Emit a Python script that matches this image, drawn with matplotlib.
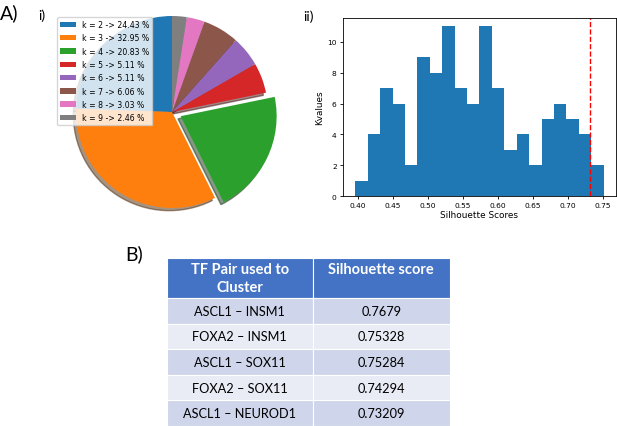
import numpy as np
import matplotlib
matplotlib.use("Agg")
import matplotlib.pyplot as plt
from matplotlib.patches import Rectangle

# pie data
k_values = [2, 3, 4, 5, 6, 7, 8, 9]
k_percent = [24.43, 32.95, 20.83, 5.11, 5.11, 6.06, 3.03, 2.46]
k_explode = [0, 0, 0.1, 0, 0, 0, 0, 0]

# histogram data (20 bins)
hist_lo = 0.397
hist_hi = 0.7515
hist_counts = [1, 4, 7, 6, 2, 9, 8, 11, 7, 6, 11, 7, 3, 4, 2, 5, 6, 5, 4, 2]
cutoff = 0.732

# table data
table_header = ["TF Pair used to\nCluster", "Silhouette score"]
tf_pairs = ["ASCL1 \u2013 INSM1", "FOXA2 \u2013 INSM1", "ASCL1 \u2013 SOX11",
            "FOXA2 \u2013 SOX11", "ASCL1 \u2013 NEUROD1"]
sil_scores = ["0.7679", "0.75328", "0.75284", "0.74294", "0.73209"]

W, H = 617, 427
fig = plt.figure(figsize=(W / 100, H / 100), dpi=100)


def px(x0, y0, x1, y1):
    # pixel box (top based) -> figure fraction rect
    return [x0 / W, 1 - y1 / H, (x1 - x0) / W, (y1 - y0) / H]


# ---- pie ----
ax1 = fig.add_axes(px(60, 1, 284, 225))
wedges, _ = ax1.pie(k_percent, explode=k_explode, startangle=90, shadow=True)
ax1.set_xlim(-1.1667, 1.1667)
ax1.set_ylim(-1.1667, 1.1667)
ax1.set_aspect('equal')
ax1.axis('off')
labels = ["k = %d -> %.2f %%" % (k, p) for k, p in zip(k_values, k_percent)]
ax1.legend(wedges, labels, loc='upper left', bbox_to_anchor=(57 / W, 1 - 18 / H),
           bbox_transform=fig.transFigure, borderaxespad=0, fontsize=5.6,
           handlelength=2.0, labelspacing=0.55)

# ---- histogram ----
ax2 = fig.add_axes(px(343, 19, 616, 197))
edges = np.linspace(hist_lo, hist_hi, len(hist_counts) + 1)
centers = (edges[:-1] + edges[1:]) / 2
ax2.hist(centers, bins=edges, weights=hist_counts, color='#1f77b4')
ax2.axvline(cutoff, color='red', linestyle='--', linewidth=1)
ax2.set_xticks([0.40, 0.45, 0.50, 0.55, 0.60, 0.65, 0.70, 0.75])
ax2.set_yticks([0, 2, 4, 6, 8, 10])
ax2.tick_params(labelsize=5.4, length=2.5, width=0.6, pad=2)
for s in ax2.spines.values():
    s.set_linewidth(0.6)
ax2.set_xlabel("Silhouette Scores", fontsize=6.4, labelpad=1.5)
ax2.set_ylabel("Kvalues", fontsize=6.4, labelpad=2)

# ---- table ----
ax3 = fig.add_axes(px(167, 259, 450, 427))
n = len(tf_pairs)
head_h = 1.56
ax3.set_xlim(0, 2)
ax3.set_ylim(n + head_h, 0)
ax3.axis('off')
col_w = [1.03, 0.97]
col_x = [0, col_w[0]]
for c in range(2):
    ax3.add_patch(Rectangle((col_x[c], 0), col_w[c], head_h, facecolor='#4472C4',
                            edgecolor='white', linewidth=0.8))
    ax3.text(col_x[c] + col_w[c] / 2, 0.16, table_header[c], ha='center', va='top',
             color='white', fontweight='bold', fontsize=10.5, family='Lato',
             linespacing=1.4)
for r in range(n):
    face = '#CFD5EA' if r % 2 == 0 else '#E9EBF5'
    y = head_h + r
    for c, val in enumerate([tf_pairs[r], sil_scores[r]]):
        ax3.add_patch(Rectangle((col_x[c], y), col_w[c], 1, facecolor=face,
                                edgecolor='white', linewidth=0.8))
        ax3.text(col_x[c] + col_w[c] / 2, y + 0.5, val, ha='center', va='center',
                 color='black', fontsize=9.2, family='Lato')

# panel labels
fig.text(0 / W, 1 - 13 / H, "A)", fontsize=14, family='Lato', va='center')
fig.text(38 / W, 1 - 16 / H, "i)", fontsize=10, family='Lato', va='center')
fig.text(303 / W, 1 - 17 / H, "ii)", fontsize=10, family='Lato', va='center')
fig.text(125 / W, 1 - 254 / H, "B)", fontsize=14, family='Lato', va='center')

fig.savefig("out.png", dpi=100)
